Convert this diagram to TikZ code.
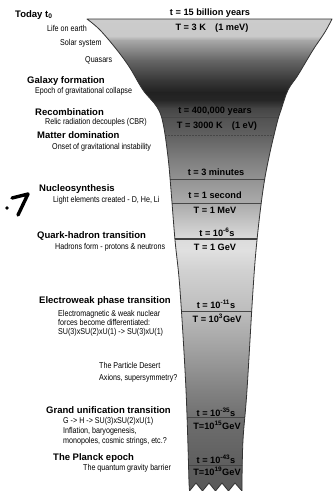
\documentclass[tikz,border=0pt]{standalone}
\usepackage{fontspec}
\setmainfont{Liberation Sans}
\newfontfamily\narrowfont[FakeStretch=0.84]{Liberation Sans}
\tikzset{
  head/.style={anchor=base west, inner sep=0pt, font=\fontsize{9.5}{11}\selectfont\bfseries},
  sub/.style={anchor=base west, inner sep=0pt, font=\narrowfont\fontsize{8.5}{10}\selectfont},
  era/.style={anchor=base, inner sep=0pt, font=\fontsize{9.2}{11}\selectfont\bfseries},
  divide/.style={draw=black!72, line width=0.7pt},
  outline/.style={draw=black!80, line width=0.8pt, line join=round},
}
\def\funnelpath{(87,19) -- (332,19) -- plot[smooth, tension=0.6] coordinates {(332,19) (325,32) (313,50) (298,75) (288,90) (281,110) (277,123) (269,157) (263,190) (257,240) (253,290) (247,390) (243,440) (242,483)} -- (242,491) -- (235,483) -- (228.5,491) -- (222,483) -- (215.5,491) -- (209,483) -- (202.5,491) -- (196,483) -- (189.5,491) -- plot[smooth, tension=0.6] coordinates {(189,483) (186,390) (180,290) (175,240) (171,190) (168,157) (163,123) (157,107) (143,90) (130,68) (117,50) (100,30) (87,19)} -- cycle}
\begin{document}
\begin{tikzpicture}[x=1pt, y=-1pt]
\useasboundingbox (0,0) rectangle (333,491);
\fill[white] (0,0) rectangle (333,491);
% funnel shading
\begin{scope}
  \clip \funnelpath;
  \foreach \ya/\yb/\ca/\cb in {19/36/0.80/0.79, 36/40/0.79/0.66, 40/60/0.66/0.40, 60/80/0.40/0.22, 80/92/0.22/0.13, 92/100/0.13/0.15, 100/108/0.15/0.27, 108/117/0.27/0.32, 117/135/0.32/0.38, 135/160/0.38/0.50, 160/180/0.50/0.58, 180/203/0.58/0.67, 203/220/0.67/0.76, 220/239/0.76/0.86, 239/250/0.86/0.88, 250/270/0.88/0.82, 270/311/0.82/0.74, 311/350/0.74/0.63, 350/390/0.63/0.51, 390/420/0.51/0.43, 420/465/0.43/0.37, 465/491/0.37/0.35} {
    \definecolor{shA}{gray}{\ca}
    \definecolor{shB}{gray}{\cb}
    \shade[top color=shA, bottom color=shB] (0,\ya) rectangle (333,{\yb+0.4});
  }
  \draw[divide] (0,117) -- (333,117);
  \draw[divide, dash pattern=on 1.5pt off 1.5pt] (0,135) -- (333,135);
  \draw[divide] (0,179) -- (333,179);
  \draw[divide] (0,203) -- (333,203);
  \draw[divide, line width=1.8pt, draw=black!75] (0,239) -- (333,239);
  \draw[divide] (0,311) -- (333,311);
  \draw[divide] (0,417) -- (333,417);
  \draw[divide] (0,465) -- (333,465);
\end{scope}
\draw[outline] \funnelpath;
% funnel labels
\node[era] (t15) at (210,15) {t = 15 billion years};
\node[era] (T3) at (212,30) {T = 3 K\quad(1 meV)};
\node[era] (t4e5) at (215,113) {t = 400,000 years};
\node[era] (T3000) at (217,128) {T = 3000 K\quad(1 eV)};
\node[era] (t3m) at (216,175) {t = 3 minutes};
\node[era] (t1s) at (215,198) {t = 1 second};
\node[era] (T1MeV) at (215,213) {T = 1 MeV};
\node[era] (t6) at (217,236) {t = 10\textsuperscript{-6}s};
\node[era] (T1GeV) at (215,250) {T = 1 GeV};
\node[era] (t11) at (216,308) {t = 10\textsuperscript{-11}s};
\node[era] (T3GeV) at (217,322) {T = 10\textsuperscript{3}GeV};
\node[era] (t35) at (216,416) {t = 10\textsuperscript{-35}s};
\node[era] (T15) at (217,429) {T=10\textsuperscript{15}GeV};
\node[era] (t43) at (216,463) {t = 10\textsuperscript{-43}s};
\node[era] (T19) at (217,475) {T=10\textsuperscript{19}GeV};
% left labels
\node[head] (today) at (15,17) {Today t\textsubscript{0}};
\node[sub] (life) at (47,31) {Life on earth};
\node[sub] (solar) at (60,45) {Solar system};
\node[sub] (quasars) at (85,62) {Quasars};
\node[head] (galaxy) at (27,83) {Galaxy formation};
\node[sub] (epoch) at (35,93) {Epoch of gravitational collapse};
\node[head] (recomb) at (35,115) {Recombination};
\node[sub] (relic) at (45,124) {Relic radiation decouples (CBR)};
\node[head] (matter) at (37,138) {Matter domination};
\node[sub] (onset) at (52,149) {Onset of gravitational instability};
\node[head] (nucleo) at (39,191) {Nucleosynthesis};
\node[sub] (light) at (53,202) {Light elements created - D, He, Li};
\node[head] (quark) at (37,238) {Quark-hadron transition};
\node[sub] (hadrons) at (55,249) {Hadrons form - protons \& neutrons};
\node[head] (ew) at (39,303) {Electroweak phase transition};
\node[sub] (ew1) at (58,316) {Electromagnetic \& weak nuclear};
\node[sub] (ew2) at (58,325) {forces become differentiated:};
\node[sub] (ew3) at (58,334) {SU(3)xSU(2)xU(1) -> SU(3)xU(1)};
\node[sub] (desert) at (99,368) {The Particle Desert};
\node[sub] (axions) at (99,380) {Axions, supersymmetry?};
\node[head] (gut) at (46,413) {Grand unification transition};
\node[sub] (gut1) at (63,423) {G -> H -> SU(3)xSU(2)xU(1)};
\node[sub] (gut2) at (63,433) {Inflation, baryogenesis,};
\node[sub] (gut3) at (63,443) {monopoles, cosmic strings, etc.?};
\node[head] (planck) at (53,460) {The Planck epoch};
\node[sub] (qgb) at (83,470) {The quantum gravity barrier};
% hand-drawn mark
\draw[line width=3.4pt, line cap=round, line join=round] (12,198) -- (28,194) -- (18,215);
\fill (7,208) circle (1.8);
\end{tikzpicture}
\end{document}
